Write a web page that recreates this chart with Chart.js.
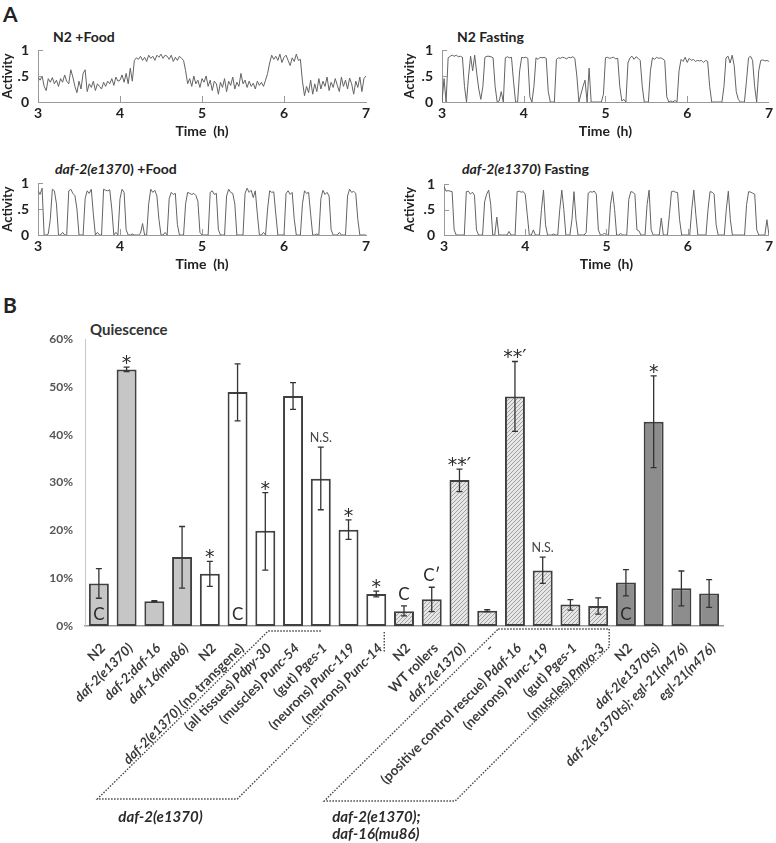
<!DOCTYPE html>
<html>
<head>
<meta charset="utf-8">
<script src="https://cdn.jsdelivr.net/npm/chart.js@4.4.1/dist/chart.umd.min.js"></script>
<style>
  body { margin: 0; background: #fff; font-family: Lato, sans-serif; }
  .box { position: absolute; }
  .lbl { position: absolute; font-weight: bold; color: #222; white-space: nowrap; }
</style>
</head>
<body>
<div class="lbl" style="left:3px;top:1px;font-size:21px">A</div>
<div class="lbl" style="left:3px;top:292px;font-size:21px">B</div>
<div class="lbl" style="left:53px;top:28px;font-size:14px">N2 +Food</div>
<div class="lbl" style="left:457px;top:28px;font-size:14px">N2 Fasting</div>
<div class="lbl" style="left:55px;top:160px;font-size:14px"><i>daf-2(e1370</i>) +Food</div>
<div class="lbl" style="left:462px;top:160px;font-size:14px"><i>daf-2(e1370</i>) Fasting</div>
<div class="lbl" style="left:90px;top:320px;font-size:15px;color:#333">Quiescence</div>

<canvas id="t1" class="box" style="left:0;top:20px" width="388" height="130"></canvas>
<canvas id="t2" class="box" style="left:390px;top:20px" width="386" height="130"></canvas>
<canvas id="t3" class="box" style="left:0;top:153px" width="388" height="130"></canvas>
<canvas id="t4" class="box" style="left:390px;top:153px" width="386" height="130"></canvas>
<canvas id="quies" class="box" style="left:0;top:300px" width="776" height="543"></canvas>

<script>
// ---- panel A: activity traces, one reading every 1.5 min from 3 h to 7 h ----
const startHour = 3;
const sampleStep = 0.025;
const hourTicks = [4, 5, 6];

const n2Food = [
  0.48,0.42,0.50,0.30,0.22,0.45,0.38,0.47, 0.35,0.42,0.30,0.45,0.38,0.52,0.40,0.35,
  0.62,0.48,0.30,0.18,0.40,0.25,0.55,0.62, 0.20,0.35,0.28,0.40,0.22,0.35,0.30,0.25,
  0.38,0.30,0.40,0.35,0.45,0.32,0.48,0.40, 0.42,0.52,0.38,0.55,0.35,0.65,0.40,0.80,
  0.85,0.82,0.88,0.80,0.86,0.78,0.90,0.84, 0.88,0.80,0.90,0.86,0.92,0.84,0.90,0.88,
  0.82,0.90,0.78,0.86,0.80,0.88,0.84,0.80, 0.60,0.35,0.45,0.30,0.50,0.35,0.42,0.28,
  0.45,0.38,0.50,0.30,0.42,0.22,0.40,0.35, 0.15,0.38,0.28,0.45,0.20,0.40,0.32,0.48,
  0.25,0.38,0.30,0.55,0.35,0.42,0.28,0.40, 0.30,0.36,0.25,0.40,0.32,0.38,0.30,0.42,
  0.55,0.75,0.90,0.82,0.88,0.80,0.92,0.76, 0.86,0.90,0.80,0.70,0.85,0.78,0.92,0.80,
  0.82,0.40,0.12,0.30,0.18,0.42,0.15,0.35, 0.20,0.45,0.25,0.40,0.30,0.48,0.22,0.38,
  0.28,0.45,0.32,0.20,0.48,0.30,0.42,0.25, 0.46,0.35,0.15,0.40,0.28,0.48,0.20,0.45,0.50
];
const n2Fasting = [
  0.00,0.45,0.00,0.85,0.88,0.90,0.88,0.90, 0.87,0.88,0.86,0.30,0.00,0.50,0.88,0.60,
  0.90,0.55,0.25,0.05,0.30,0.86,0.88,0.88, 0.87,0.85,0.30,0.00,0.02,0.20,0.00,0.85,
  0.87,0.85,0.86,0.40,0.00,0.00,0.60,0.86, 0.85,0.86,0.84,0.10,0.00,0.30,0.85,0.82,
  0.86,0.85,0.86,0.84,0.20,0.00,0.00,0.00, 0.82,0.85,0.84,0.86,0.85,0.83,0.86,0.85,
  0.87,0.84,0.50,0.00,0.15,0.30,0.42,0.00, 0.65,0.00,0.00,0.00,0.00,0.00,0.00,0.15,
  0.85,0.86,0.84,0.85,0.86,0.83,0.84,0.30, 0.02,0.05,0.00,0.75,0.85,0.88,0.82,0.87,
  0.84,0.80,0.30,0.00,0.00,0.00,0.60,0.85, 0.82,0.86,0.84,0.85,0.83,0.80,0.10,0.00,
  0.02,0.00,0.03,0.00,0.60,0.82,0.78,0.86, 0.76,0.84,0.80,0.82,0.78,0.80,0.79,0.80,
  0.76,0.80,0.78,0.30,0.00,0.00,0.00,0.00, 0.00,0.00,0.30,0.85,0.88,0.75,0.90,0.70,
  0.20,0.05,0.00,0.00,0.00,0.40,0.85,0.88, 0.80,0.30,0.00,0.60,0.80,0.81,0.79,0.80,0.78
];
const daf2Food = [
  0.85,0.78,0.90,0.00,0.00,0.02,0.30,0.88, 0.85,0.60,0.00,0.00,0.05,0.00,0.00,0.85,
  0.88,0.80,0.76,0.50,0.00,0.00,0.00,0.70, 0.85,0.80,0.88,0.40,0.00,0.05,0.00,0.00,
  0.88,0.86,0.85,0.87,0.50,0.00,0.05,0.00, 0.70,0.88,0.82,0.10,0.00,0.00,0.02,0.00,
  0.00,0.00,0.03,0.22,0.00,0.00,0.60,0.88, 0.82,0.86,0.75,0.30,0.00,0.00,0.05,0.00,
  0.70,0.82,0.78,0.80,0.20,0.00,0.00,0.00, 0.60,0.82,0.80,0.78,0.80,0.76,0.65,0.05,
  0.00,0.00,0.00,0.00,0.82,0.85,0.78,0.80, 0.10,0.00,0.00,0.00,0.75,0.88,0.82,0.80,
  0.60,0.00,0.00,0.00,0.00,0.80,0.90,0.82, 0.86,0.72,0.85,0.40,0.00,0.00,0.05,0.00,
  0.50,0.85,0.82,0.83,0.40,0.00,0.00,0.00, 0.00,0.80,0.85,0.78,0.82,0.30,0.00,0.00,
  0.00,0.60,0.85,0.80,0.82,0.40,0.00,0.00, 0.02,0.00,0.70,0.86,0.78,0.82,0.75,0.10,
  0.00,0.00,0.00,0.05,0.00,0.00,0.00,0.75, 0.88,0.82,0.84,0.80,0.30,0.00,0.00,0.00,0.00
];
const daf2Fasting = [
  0.95,0.86,0.87,0.86,0.85,0.10,0.00,0.00, 0.00,0.00,0.00,0.85,0.86,0.80,0.84,0.78,
  0.10,0.00,0.00,0.00,0.65,0.80,0.88,0.60, 0.00,0.00,0.35,0.00,0.00,0.00,0.00,0.00,
  0.07,0.00,0.00,0.00,0.85,0.86,0.84,0.85, 0.80,0.40,0.00,0.00,0.10,0.00,0.00,0.00,
  0.50,0.88,0.20,0.00,0.00,0.00,0.02,0.00, 0.00,0.50,0.88,0.50,0.00,0.00,0.00,0.30,
  0.85,0.30,0.00,0.00,0.00,0.00,0.05,0.82, 0.85,0.84,0.86,0.80,0.10,0.00,0.00,0.04,
  0.00,0.00,0.60,0.85,0.50,0.00,0.00,0.03, 0.00,0.00,0.00,0.70,0.85,0.84,0.80,0.10,
  0.08,0.00,0.00,0.00,0.60,0.88,0.10,0.00, 0.00,0.00,0.00,0.33,0.00,0.00,0.00,0.40,
  0.85,0.86,0.84,0.83,0.30,0.00,0.00,0.00, 0.00,0.00,0.50,0.88,0.40,0.00,0.00,0.00,
  0.00,0.00,0.50,0.85,0.84,0.80,0.20,0.00, 0.00,0.00,0.00,0.50,0.86,0.30,0.00,0.00,
  0.00,0.00,0.00,0.00,0.00,0.60,0.85,0.84, 0.82,0.80,0.10,0.00,0.00,0.00,0.00,0.30,0.00
];

// ---- panel B: quiescence (%) ----
const categories = [
  "N2", "daf-2(e1370)", "daf-2;daf-16", "daf-16(mu86)",
  "N2", "daf-2(e1370) (no transgene)", "(all tissues) Pdpy-30", "(muscles) Punc-54",
  "(gut) Pges-1", "(neurons) Punc-119", "(neurons) Punc-14",
  "N2", "WT rollers", "daf-2(e1370)", "-", "(positive control rescue) Pdaf-16",
  "(neurons) Punc-119", "(gut) Pges-1", "(muscles) Pmyo-3",
  "N2", "daf-2(e1370ts)", "daf-2(e1370ts); egl-21(n476)", "egl-21(n476)"
];
const quiescence = [8.9, 53.6, 5.2, 14.4, 10.9, 48.9, 19.9, 48.1, 30.8, 20.1, 6.7,
  3.1, 5.6, 30.5, 3.2, 48.0, 11.6, 4.5, 4.2, 9.1, 42.7, 7.9, 6.8];
const errHigh = [12.0, 54.1, 5.3, 20.8, 13.5, 54.8, 27.9, 50.9, 37.4, 22.2, 7.3,
  4.2, 8.1, 32.8, 3.4, 55.3, 14.4, 5.5, 5.9, 11.8, 52.3, 11.5, 9.7];
const errLow = [5.8, 53.2, 5.1, 7.9, 8.3, 42.9, 11.7, 45.3, 24.3, 18.1, 6.1,
  2.1, 3.0, 28.1, 3.0, 40.7, 8.9, 3.3, 2.5, 6.3, 33.1, 4.2, 3.9];
const groups = [1,1,1,1, 2,2,2,2,2,2,2, 3,3,3,3,3,3,3,3, 4,4,4,4];
const marksAbove = ["", "*", "", "", "*", "", "*", "", "N.S.", "*", "*",
  "C", "C\u2032", "**\u2032", "", "**\u2032", "N.S.", "", "", "", "*", "", ""];
const marksInside = ["C", "", "", "", "", "C", "", "", "", "", "",
  "", "", "", "", "", "", "", "", "C", "", "", ""];
const groupNames = [["daf-2(e1370)"], ["daf-2(e1370);", "daf-16(mu86)"]];
const uprightLabels = ["N2", "WT rollers", "-"];

const axisFont = { family: "Lato", weight: "bold", size: 14 };

const innerTicks = {
  id: "innerTicks",
  afterDraw(chart) {
    const { ctx, scales: { x, y } } = chart;
    ctx.save();
    ctx.strokeStyle = "#999";
    ctx.lineWidth = 1;
    ctx.beginPath();
    hourTicks.forEach(h => {
      const px = Math.round(x.getPixelForValue(h)) + 0.5;
      ctx.moveTo(px, y.bottom); ctx.lineTo(px, y.bottom - 6);
    });
    [0.5, 1].forEach(v => {
      const py = Math.round(y.getPixelForValue(v)) + 0.5;
      ctx.moveTo(x.left, py); ctx.lineTo(x.left + 5, py);
    });
    ctx.stroke();
    ctx.restore();
  }
};

const traceChart = (id, values, yWidth, rightPad, topPad, yTitlePad) => {
  new Chart(document.getElementById(id), {
    type: "line",
    data: {
      datasets: [{
        data: values.map((v, i) => ({ x: startHour + i * sampleStep, y: v })),
        borderColor: "#636363",
        borderWidth: 1,
        pointRadius: 0,
        tension: 0
      }]
    },
    options: {
      responsive: false,
      animation: false,
      layout: { padding: { left: 0, right: rightPad, top: topPad, bottom: 0 } },
      plugins: { legend: { display: false }, tooltip: { enabled: false } },
      scales: {
        x: {
          type: "linear", min: 3, max: 7,
          ticks: { stepSize: 1, font: axisFont, color: "#222", padding: 3, maxRotation: 0 },
          grid: { display: false, drawTicks: false },
          border: { color: "#999" },
          title: { display: true, text: "Time  (h)", font: axisFont, color: "#222", padding: { top: 0, bottom: 10 } },
          afterFit: s => { s.height = 48; }
        },
        y: {
          min: 0, max: 1,
          ticks: { stepSize: 0.5, font: axisFont, color: "#222", padding: 9,
            callback: v => v === 0.5 ? ".5" : v },
          grid: { display: false, drawTicks: false },
          border: { color: "#999" },
          title: { display: true, text: "Activity", font: { family: "Lato", weight: "bold", size: 13 }, color: "#222", padding: { top: yTitlePad, bottom: 0 } },
          afterFit: s => { s.width = yWidth; }
        }
      }
    },
    plugins: [innerTicks]
  });
};

traceChart("t1", n2Food, 38, 22, 30, 0);
traceChart("t2", n2Fasting, 52, 6, 30, 12);
traceChart("t3", daf2Food, 38, 22, 30, 0);
traceChart("t4", daf2Fasting, 54, 6, 31, 12);

// ---- bar chart ----
const barCanvas = document.getElementById("quies");
const hatchTile = document.createElement("canvas");
hatchTile.width = 4; hatchTile.height = 4;
const hg = hatchTile.getContext("2d");
hg.fillStyle = "#e6e6e6"; hg.fillRect(0, 0, 4, 4);
hg.strokeStyle = "#a2a2a2"; hg.lineWidth = 1;
hg.beginPath();
hg.moveTo(0, 4); hg.lineTo(4, 0);
hg.moveTo(-1, 1); hg.lineTo(1, -1);
hg.moveTo(3, 5); hg.lineTo(5, 3);
hg.stroke();
const hatch = barCanvas.getContext("2d").createPattern(hatchTile, "repeat");
const groupFill = { 1: "#c6c6c6", 2: "#ffffff", 3: hatch, 4: "#8d8d8d" };

const labelParts = (label) => {
  if (uprightLabels.includes(label)) return [{ t: label, it: false }];
  const parts = [];
  const re = /\([a-z ]+\)/g;
  let last = 0, m;
  while ((m = re.exec(label))) {
    if (m.index > last) parts.push({ t: label.slice(last, m.index), it: true });
    parts.push({ t: m[0], it: false });
    last = m.index + m[0].length;
  }
  if (last < label.length) parts.push({ t: label.slice(last), it: true });
  return parts;
};
const labelFont = it => (it ? "italic " : "") + "bold 13.5px Lato";

const errorBars = {
  id: "errorBars",
  afterDatasetsDraw(chart) {
    const { ctx, scales: { x, y } } = chart;
    const base = y.getPixelForValue(0);
    ctx.save();
    ctx.strokeStyle = "#333";
    ctx.lineWidth = 1.3;
    quiescence.forEach((v, i) => {
      const px = x.getPixelForValue(i);
      const hi = y.getPixelForValue(errHigh[i]);
      const lo = y.getPixelForValue(errLow[i]);
      ctx.beginPath();
      ctx.moveTo(px, hi); ctx.lineTo(px, lo);
      ctx.moveTo(px - 3, hi); ctx.lineTo(px + 3, hi);
      ctx.moveTo(px - 3, lo); ctx.lineTo(px + 3, lo);
      ctx.stroke();
    });
    ctx.fillStyle = "#2a2a2a";
    ctx.textAlign = "center";
    ctx.textBaseline = "alphabetic";
    marksAbove.forEach((mk, i) => {
      if (!mk) return;
      const px = x.getPixelForValue(i);
      const top = y.getPixelForValue(Math.max(errHigh[i], quiescence[i]));
      if (mk.startsWith("*")) {
        ctx.font = "19px 'DejaVu Sans'";
        ctx.fillText(mk, px, top + 2);
      } else if (mk === "N.S.") {
        ctx.font = "12.5px Lato";
        ctx.fillStyle = "#444";
        ctx.fillText(mk, px, top - 5);
        ctx.fillStyle = "#2a2a2a";
      } else {
        ctx.font = "17px Lato";
        ctx.fillText(mk, px, top - 6);
      }
    });
    ctx.font = "17px Lato";
    marksInside.forEach((mk, i) => {
      if (!mk) return;
      ctx.fillText(mk, x.getPixelForValue(i), base - 6);
    });
    ctx.restore();
  }
};

const labelsAndBrackets = {
  id: "labelsAndBrackets",
  afterDraw(chart) {
    const { ctx, scales: { x, y } } = chart;
    const base = y.getPixelForValue(0);
    const xs = i => x.getPixelForValue(i);
    ctx.save();
    ctx.fillStyle = "#3a3a3a";
    categories.forEach((lab, i) => {
      const parts = labelParts(lab);
      ctx.save();
      ctx.translate(xs(i) + 4, base + 20);
      ctx.rotate(-Math.PI / 4);
      ctx.textBaseline = "middle";
      ctx.textAlign = "left";
      let w = 0;
      parts.forEach(p => { ctx.font = labelFont(p.it); p.w = ctx.measureText(p.t).width; w += p.w; });
      let cx = -w;
      parts.forEach(p => { ctx.font = labelFont(p.it); ctx.fillText(p.t, cx, 0); cx += p.w; });
      ctx.restore();
    });

    // dotted group brackets
    ctx.strokeStyle = "#444";
    ctx.lineWidth = 1.4;
    ctx.setLineDash([1.5, 1.5]);
    const a = { x: xs(6) + 3, y: base + 5 };
    const l = { x: a.x - 171, y: base + 173 };
    const r = { x: l.x + 140, y: l.y };
    ctx.beginPath();
    ctx.moveTo(xs(8), a.y); ctx.lineTo(a.x, a.y); ctx.lineTo(l.x, l.y); ctx.lineTo(r.x, r.y);
    ctx.lineTo(r.x + 85, r.y - 85);
    ctx.moveTo(xs(10) + 8, base + 6); ctx.lineTo(xs(10) + 8, base + 27);
    ctx.stroke();

    const p = { x: xs(14) + 11, y: base + 3 };
    const q = { x: xs(18) + 11, y: base + 3 };
    const q2 = { x: q.x, y: base + 21 };
    const d = { x: q2.x - 154, y: base + 175 };
    const e = { x: p.x - 174, y: base + 175 };
    ctx.beginPath();
    ctx.moveTo(p.x, p.y); ctx.lineTo(q.x, q.y); ctx.lineTo(q2.x, q2.y);
    ctx.lineTo(d.x, d.y); ctx.lineTo(e.x, e.y); ctx.closePath();
    ctx.stroke();
    ctx.setLineDash([]);

    ctx.font = "italic bold 15px Lato";
    ctx.fillStyle = "#2a2a2a";
    ctx.textAlign = "left";
    ctx.textBaseline = "alphabetic";
    ctx.fillText(groupNames[0][0], l.x + 21, base + 196);
    ctx.fillText(groupNames[1][0], e.x + 8, base + 196);
    ctx.fillText(groupNames[1][1], e.x + 8, base + 213);
    ctx.restore();
  }
};

new Chart(barCanvas, {
  type: "bar",
  data: {
    labels: categories,
    datasets: [{
      data: quiescence,
      backgroundColor: groups.map(g => groupFill[g]),
      borderColor: "#404040",
      borderWidth: 2,
      borderSkipped: false,
      barPercentage: 0.72,
      categoryPercentage: 1
    }]
  },
  options: {
    responsive: false,
    animation: false,
    layout: { padding: { left: 0, right: 53, top: 39, bottom: 0 } },
    plugins: { legend: { display: false }, tooltip: { enabled: false } },
    scales: {
      x: {
        ticks: { display: false },
        grid: { display: false, drawTicks: false },
        border: { color: "#999", width: 1.5 },
        afterFit: s => { s.height = 217; }
      },
      y: {
        min: 0, max: 60,
        ticks: { stepSize: 10, callback: v => v + "%", font: { family: "Lato", weight: "bold", size: 12 }, color: "#555", padding: 12 },
        grid: { display: false, drawTicks: false },
        border: { color: "#c8c8c8" },
        afterFit: s => { s.width = 85; }
      }
    }
  },
  plugins: [errorBars, labelsAndBrackets]
});
</script>
</body>
</html>
